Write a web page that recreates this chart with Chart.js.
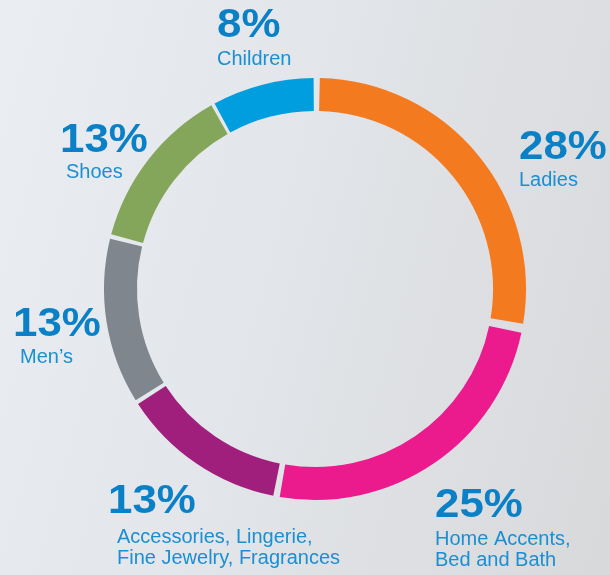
<!DOCTYPE html>
<html>
<head>
<meta charset="utf-8">
<script src="https://cdn.jsdelivr.net/npm/chart.js@4.4.0/dist/chart.umd.min.js"></script>
<style>
  html, body { margin: 0; padding: 0; }
  body {
    width: 610px; height: 575px; overflow: hidden;
    background: linear-gradient(105deg, #eaedf1 0%, #e2e5e9 45%, #d8d9db 100%);
  }
  #wrap { position: relative; width: 610px; height: 575px; }
</style>
</head>
<body>
<div id="wrap"><canvas id="c" width="610" height="575"></canvas></div>
<script>
// ---- data ----
const categories = [
  ['Ladies'],
  ['Home Accents,', 'Bed and Bath'],
  ['Accessories, Lingerie,', 'Fine Jewelry, Fragrances'],
  ['Men\u2019s'],
  ['Shoes'],
  ['Children']
];
const shares = [28, 25, 13, 13, 13, 8];
const segmentColors = ['#f47a20', '#ec1b8d', '#a11f7c', '#7f868e', '#84a65b', '#009edf'];

// ---- label layout (positions of the annotation text) ----
const pctPos   = [[519, 159], [435, 517], [108, 513], [13, 336], [60, 152], [217, 37]];
const namePos  = [[519, 186], [435, 545], [117, 543], [20, 363], [66, 178], [217, 65]];
const nameLineHeight = 21;

const labelPlugin = {
  id: 'sliceLabels',
  afterDraw(chart) {
    const ctx = chart.ctx;
    ctx.save();
    ctx.textAlign = 'left';
    ctx.textBaseline = 'alphabetic';
    shares.forEach((v, i) => {
      ctx.save();
      ctx.fillStyle = '#0a80c6';
      ctx.font = 'bold 41px "Liberation Sans", Arial, sans-serif';
      ctx.translate(pctPos[i][0], pctPos[i][1]);
      ctx.scale(1.07, 1);
      ctx.fillText(v + '%', 0, 0);
      ctx.restore();
      ctx.fillStyle = '#1a8fd2';
      ctx.font = '20px "Liberation Sans", Arial, sans-serif';
      categories[i].forEach((line, j) => {
        ctx.fillText(line, namePos[i][0], namePos[i][1] + j * nameLineHeight);
      });
    });
    ctx.restore();
  }
};

new Chart(document.getElementById('c'), {
  type: 'doughnut',
  data: {
    labels: categories.map(c => c.join(' ')),
    datasets: [{
      data: shares,
      backgroundColor: segmentColors,
      borderWidth: 0,
      spacing: 10,
      hoverOffset: 0
    }]
  },
  options: {
    responsive: false,
    animation: false,
    radius: 206,
    cutout: '84%',
    layout: { padding: { left: 20, right: 0, top: 3, bottom: 0 } },
    plugins: {
      legend: { display: false },
      tooltip: { enabled: false }
    }
  },
  plugins: [labelPlugin]
});
</script>
</body>
</html>
